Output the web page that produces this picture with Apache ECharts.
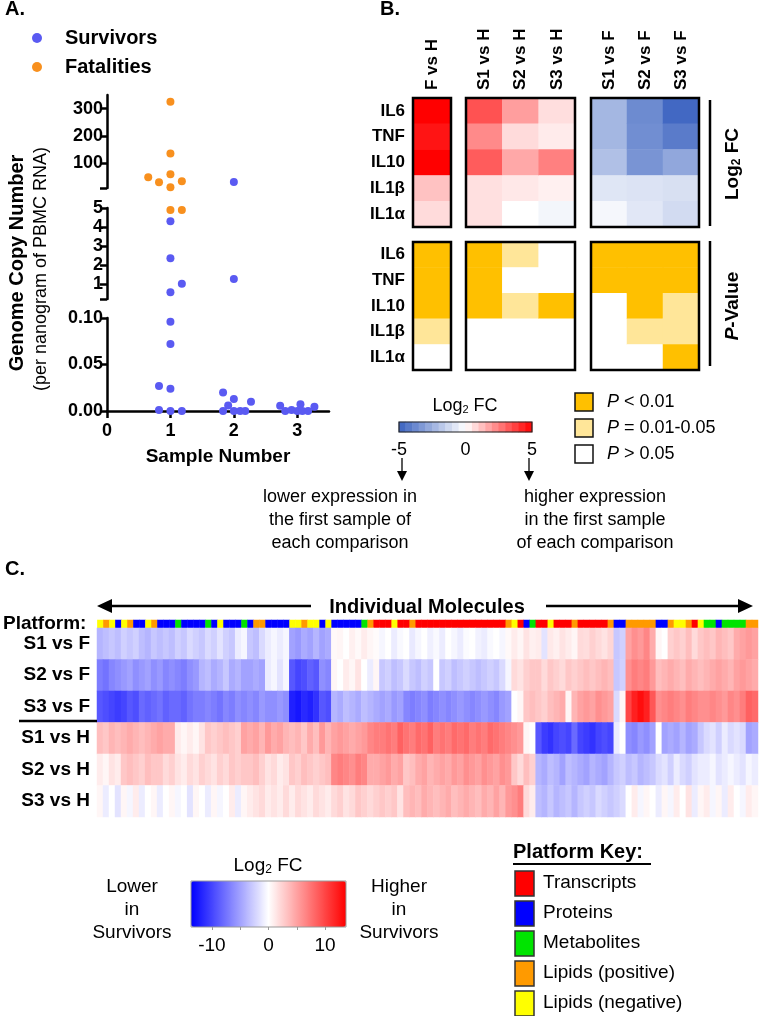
<!DOCTYPE html>
<html>
<head>
<meta charset="utf-8">
<script src="https://cdn.jsdelivr.net/npm/echarts@6.0.0/dist/echarts.min.js"></script>
<style>
html,body{margin:0;padding:0;background:#ffffff;}
#chart{width:760px;height:1016px;}
</style>
</head>
<body>
<div id="chart"></div>
<script>
// ================= DATA =================
// ---- Panel A: genome copy number (x = sample number incl. jitter, y = copies) ----
const survivorPoints = [
  [1.00, 4.3], [1.00, 2.35], [1.18, 1.0], [1.00, 0.55], [1.00, 0.096], [1.00, 0.072],
  [0.82, 0.027], [1.00, 0.024], [0.82, 0.001], [1.00, 0], [1.18, 0],
  [2.00, 32], [2.00, 1.25], [1.83, 0.020], [2.00, 0.013], [1.91, 0.006], [2.27, 0.010],
  [1.83, 0], [2.00, 0], [2.10, 0], [2.18, 0],
  [2.73, 0.0057], [2.81, 0], [2.91, 0.001], [3.00, 0], [3.05, 0.0072], [3.08, 0], [3.17, 0], [3.27, 0.0046]
];
const fatalityPoints = [
  [1.00, 325], [1.00, 136], [0.65, 49], [1.00, 60], [0.82, 31], [1.18, 35], [1.00, 13], [1.00, 4.9], [1.18, 4.9]
];
const ySegTop = [10, 350];
const ySegMid = [0.2, 5];
const ySegLow = [0, 0.10];
const yTicksTop = [100, 200, 300];
const yTicksMid = [1, 2, 3, 4, 5];
const yTicksLow = [0, 0.05, 0.10];
const yBreakTicksTop = [10];
const yBreakTicksMid = [0.2];
const xTicksA = [0, 1, 2, 3];

// ---- Panel B: cytokine log2 FC and P-value classes ----
const cytokines = ['IL6', 'TNF', 'IL10', 'IL1β', 'IL1α'];
const compFH = ['F vs H'];
const compSH = ['S1 vs H', 'S2 vs H', 'S3 vs H'];
const compSF = ['S1 vs F', 'S2 vs F', 'S3 vs F'];
// one inner list per comparison, in cytokine order
const fcFH = [[5.0, 4.6, 5.0, 1.2, 0.7]];
const fcSH = [[3.4, 2.3, 3.2, 0.6, 0.6], [1.9, 0.7, 1.7, 0.45, 0.0], [0.65, 0.4, 2.5, 0.3, -0.3]];
const fcSF = [[-2.3, -2.3, -2.0, -0.8, -0.25], [-3.7, -3.6, -3.4, -0.9, -0.75], [-4.8, -4.2, -2.8, -1.0, -1.15]];
// 2 = P < 0.01, 1 = P 0.01-0.05, 0 = P > 0.05
const pFH = [[2, 2, 2, 1, 0]];
const pSH = [[2, 2, 2, 0, 0], [1, 0, 1, 0, 0], [0, 0, 2, 0, 0]];
const pSF = [[2, 2, 0, 0, 0], [2, 2, 2, 1, 0], [2, 2, 1, 1, 2]];
const fcLegendSteps = [-4.75, -4.25, -3.75, -3.25, -2.75, -2.25, -1.75, -1.25, -0.75, -0.25,
                        0.25, 0.75, 1.25, 1.75, 2.25, 2.75, 3.25, 3.75, 4.25, 4.75];
const fcLegendTicks = [-5, 0, 5];
const pLegendLabels = ['< 0.01', '= 0.01-0.05', '> 0.05'];

// ---- Panel C: individual molecules ----
const moleculeRows = ['S1 vs F', 'S2 vs F', 'S3 vs F', 'S1 vs H', 'S2 vs H', 'S3 vs H'];
const platformKeys = ['T', 'P', 'M', 'L', 'N'];
const platformNames = ['Transcripts', 'Proteins', 'Metabolites', 'Lipids (positive)', 'Lipids (negative)'];
const platformColors = ['#FF0000', '#0000FF', '#00E400', '#FF9A00', '#FFFF00'];
const platformCodes = ('NLNPNLPPNL' + 'PPPMPPPPMP' + 'NPPPMPLLPP' + 'PPNNLNNPNP' + 'PPPPMLTTTN' +
                       'TTLTTTTTTT' + 'TTTTTTTTLN' + 'TPMTTNTTTL' + 'TTTTTLPPLL' + 'LLLPPLNNLT' +
                       'NMMPMMMMLL').split('');
const rowS1vsF = [
  -4, -3.5, -3, -3.5, -2.5, -3, -2.5, -3.5, -4, -3, -3.5, -3, -3.5,
  -2.5, -3, -2, -2.5, -3, -2, -2.5, -1.5, -2.5, -3, -1, -0.5,
  -3, -3.5, -2, -1, -0.5, -1, -0.5,
  -5, -5.5, -4.5, -5, -4, -5, -4.5,
  0.3, 0.5, 0, 0.8, 0.3, 1, 0.5, 0.2,
  -0.5, 0, -1, -0.3, 0, -1.2, -0.5, 0, -0.8, -0.3, -1, 0, -0.5, -1, -0.2, 0, -0.7, -1, -0.3, 0, -0.5, 0.3,
  1, 0.5, 1.5, 0.8,
  1, -1.5, 1.2, 0.8, 1.5, 1, 0.5,
  2, 1.8, 2.5, 2, 1.5, 2.2,
  -3, -2.5,
  5, 6, 5.5, 6.5, 4.5,
  0.5, 0, 2.5, 3, 2.5, 3.5, 2, 3,
  3.5, 3, 4, 3.5, 3, 4.5, 5, 5.5, 5
];
const rowS2vsF = [
  -7, -7.5, -6.5, -6, -5.5, -5, -6, -5.5, -5, -6, -5.5, -6.5, -6,
  -6.5, -7, -6, -5.5, -4, -3.5, -4.5, -4, -3, -4.5, -4, -5,
  -5, -4.5, -5, -1, -0.5, -1.5, -0.5,
  -9, -10, -9.5, -8.5, -9, -6, -6.5,
  0.5, 0, 1, 0.5, 1.5, 0, -1, 0.5,
  -3, -2.5, -3.5, -3, -2, -3, -3.5, -2.5, -3, 0, -3, -2.5, -3.5, -3, -2.5, -3, -3.5, -3, -2.5, -3, -2, -0.5,
  2, 1.5, 2.5, 3,
  3, 2, 3, 2.5, 2, 3, 2.5,
  3, 3.5, 3, 3.5, 4, 3.5,
  -3, -2.5,
  6, 7, 6.5, 7, 5.5,
  3.5, 4, 4.5, 4, 3.5, 4.5, 4, 3.5,
  4, 4.5, 5, 4.5, 4, 5, 5.5, 5, 4.5
];
const rowS3vsF = [
  -9, -9.5, -10, -10.5, -10, -9, -9.5, -8, -8.5, -8, -7.5, -8.5, -8,
  -8, -8.5, -7.5, -7, -7, -6.5, -7, -7.5, -6.5, -7, -6, -6.5,
  -6, -6.5, -5.5, -6, -6, -5.5, -6,
  -12, -12.5, -11.5, -12, -11, -9, -9.5,
  -4, -4.5, -3.5, -4, -4.5, -3.5, -4, -4.5,
  -5, -4.5, -5.5, -5, -6.5, -7, -6.5, -6, -7, -6.5, -6, -6.5, -6, -5.5, -6, -6.5, -6, -5.5, -6, -6.5, -5.5, -5,
  0, 0.5, 3, 3.5,
  3, 2.5, 3.5, 4, 4.5, 0.5, 4,
  5, 5.5, 5, 6, 5.5, 5,
  -2, 0.5,
  10, 12, 13, 12, 9,
  6, 6.5, 7, 6.5, 6, 7, 6.5, 6,
  6, 6.5, 6, 5.5, 6.5, 6, 7, 8.5, 8
];
const rowS1vsH = [
  3.5, 3, 4, 3.5, 4, 4.5, 4, 3.5, 4, 4.5, 5, 4.5, 4.5,
  1, 0.5, 1, 0.5, 1.5, 3, 2.5, 3, 3.5, 3, 2.5, 5,
  4.5, 5, 4, 5.5, 4.5, 5, 4,
  3.5, 4, 3, 4.5, 3.5, 5.5, 4,
  5, 5.5, 5, 4.5, 5, 5.5, 6.5, 7,
  7, 7.5, 7, 8.5, 7.5, 7, 8, 7.5, 8.5, 7, 7.5, 7, 8, 7.5, 8, 7, 7.5, 7, 8, 7.5, 7, 6.5,
  6, 5.5, 0.5, 0,
  -9, -10.5, -11, -10, -9.5, -10, -8,
  -10, -10.5, -11, -10, -9.5, -10,
  -1, 0,
  -6, -6.5, -5.5, -6, -5,
  0, -5, -4.5, -5, -4, -5, -4.5, -3,
  -2, -1.5, -2.5, -1, -2, -1.5, -2, -5, -4.5
];
const rowS2vsH = [
  1, 0.5, 1.5, 1, 3, 3.5, 3, 2.5, 3.5, 3, 3, 2, 2.5,
  1.5, 1, 2, 1.5, 2.5, 2, 1.5, 2.5, 2, 3, 2.5, 3,
  3, 3.5, 2.5, 1.5, 2, 1, 1.5,
  3, 2.5, 3.5, 3, 2.5, 3, 3.5,
  6.5, 7, 6.5, 6, 7, 6.5, 4.5, 4.5,
  5, 5.5, 4.5, 5, 3, 3.5, 4.5, 5, 4, 4.5, 5, 4.5, 5.5, 5, 6, 5.5, 5, 6, 5.5, 5, 6, 5.5,
  3, 2, 3.5, 2.5,
  -4, -4.5, -3.5, -4, -5, -3.5, -4,
  -4.5, -5, -4, -4.5, -5, -4,
  -3, -2.5,
  -3.5, -3, -4, -3.5, -3,
  -2, -1.5, -2.5, -1, -2, -2.5, -1.5, -1,
  -1, -0.5, -1.5, -1, -0.5, -1, -1.5, -0.5, -1
];
const rowS3vsH = [
  0.5, -1, 0, -1.5, 0.5, -0.5, 1, -1, 0, 0.5, -1, 0, 0.5,
  -0.5, 0, -1.5, 0.5, 0, -1, 0.5, -0.5, 0, 1, -1, 0.5,
  1, 1.5, 2, 1, 1.5, 1, 2,
  1, 2, 1.5, 1, 2, 1.5, 1,
  2, 2.5, 1.5, 2, 3, 2.5, 2, 2.5,
  3, 2.5, 3, 1.5, 3.5, 4, 3.5, 4.5, 4, 3.5, 4, 4.5, 3.5, 4, 4.5, 4, 3.5, 4.5, 4, 5, 4, 5.5,
  6, 7, 2, 1,
  -3.5, -4, -3, -4, -3.5, -3, -4,
  -3, -2.5, -3, -2, -2.5, -3,
  -2.5, -2,
  0, 1, -0.5, 0.5, 0,
  -1, 0.5, -0.5, 1, 0, 1.5, -1, 0.5,
  1, -0.5, 0.5, -1, 1, 0, -0.5, 1, 0.5
];
const cRange = [-13.7, 13.7];
const cTicks = [-10, -5, 0, 5, 10];
const cTickLabels = [-10, 0, 10];

// ================= STYLE / LAYOUT =================
const FONT = "'Liberation Sans', Arial, Helvetica, sans-serif";
const BLACK = '#000000';
const SURV = '#5A5AF2';
const FATAL = '#F8901E';

const grids = [], xAxes = [], yAxes = [], series = [], graphics = [];
function addGrid(g) { grids.push(Object.assign({ show: false, containLabel: false }, g)); return grids.length - 1; }
function addX(a) { xAxes.push(a); return xAxes.length - 1; }
function addY(a) { yAxes.push(a); return yAxes.length - 1; }

// ---------- Panel A ----------
const A = { left: 107, width: 222, segs: [{ top: 95, height: 93 }, { top: 208, height: 91 }, { top: 318, height: 93 }] };
const segRanges = [ySegTop, ySegMid, ySegLow];
const segTickVals = [yBreakTicksTop.concat(yTicksTop), yBreakTicksMid.concat(yTicksMid), yTicksLow];
const segLabelVals = [yTicksTop, yTicksMid, yTicksLow];
function segOf(v) { return v >= ySegTop[0] ? 0 : (v >= ySegMid[0] ? 1 : 2); }

for (let k = 0; k < 3; k++) {
  const gi = addGrid({ left: A.left, width: A.width, top: A.segs[k].top, height: A.segs[k].height });
  const isBottom = k === 2;
  const xi = addX(isBottom ? {
    gridIndex: gi, type: 'value', min: 0, max: 3.5, position: 'bottom',
    axisLine: { show: true, onZero: false, lineStyle: { color: BLACK, width: 2.5 } },
    axisTick: { show: true, customValues: xTicksA, length: 7, lineStyle: { color: BLACK, width: 2.5 } },
    axisLabel: { show: true, customValues: xTicksA, color: BLACK, fontSize: 18, fontWeight: 'bold', fontFamily: FONT, margin: 11 },
    splitLine: { show: false },
    name: 'Sample Number', nameLocation: 'middle', nameGap: 36,
    nameTextStyle: { color: BLACK, fontSize: 19, fontWeight: 'bold', fontFamily: FONT }
  } : { gridIndex: gi, type: 'value', min: 0, max: 3.5, show: false });
  const yi = addY({
    gridIndex: gi, type: 'value', min: segRanges[k][0], max: segRanges[k][1],
    axisLine: { show: true, onZero: false, lineStyle: { color: BLACK, width: 2.5 } },
    axisTick: { show: true, customValues: segTickVals[k], length: 7, lineStyle: { color: BLACK, width: 2.5 } },
    axisLabel: {
      show: true, customValues: segLabelVals[k], color: BLACK, fontSize: 18, fontWeight: 'bold', fontFamily: FONT, margin: 4,
      formatter: k === 2 ? (v => Number(v).toFixed(2)) : (v => String(v))
    },
    splitLine: { show: false }
  });
  series.push({
    type: 'scatter', name: 'Survivors', xAxisIndex: xi, yAxisIndex: yi, clip: false, z: 5,
    symbol: 'circle', symbolSize: 8, itemStyle: { color: SURV, opacity: 1 }, emphasis: { disabled: true },
    data: survivorPoints.filter(p => segOf(p[1]) === k)
  });
  series.push({
    type: 'scatter', name: 'Fatalities', xAxisIndex: xi, yAxisIndex: yi, clip: false, z: 5,
    symbol: 'circle', symbolSize: 8, itemStyle: { color: FATAL, opacity: 1 }, emphasis: { disabled: true },
    data: fatalityPoints.filter(p => segOf(p[1]) === k)
  });
}

// ---------- Panel B ----------
const bCols = [
  { left: 413, width: 38, names: compFH, fc: fcFH, p: pFH },
  { left: 466, width: 109, names: compSH, fc: fcSH, p: pSH },
  { left: 591, width: 108, names: compSF, fc: fcSF, p: pSF }
];
const bRows = [{ key: 'fc', top: 98, height: 129 }, { key: 'p', top: 242, height: 128 }];
const fcSeriesIdx = [], pSeriesIdx = [];
bRows.forEach(row => {
  bCols.forEach((col, c) => {
    const gi = addGrid({ left: col.left, width: col.width, top: row.top, height: row.height });
    const xi = addX({
      gridIndex: gi, type: 'category', data: col.names, position: 'top',
      axisLine: { show: false }, axisTick: { show: false }, splitLine: { show: false },
      axisLabel: {
        show: row.key === 'fc', interval: 0, rotate: -90, margin: 8,
        color: BLACK, fontSize: 17, fontWeight: 'bold', fontFamily: FONT
      }
    });
    const yi = addY({
      gridIndex: gi, type: 'category', data: cytokines, inverse: true,
      axisLine: { show: false }, axisTick: { show: false }, splitLine: { show: false },
      axisLabel: { show: c === 0, margin: 8, color: BLACK, fontSize: 17, fontWeight: 'bold', fontFamily: FONT }
    });
    const vals = row.key === 'fc' ? col.fc : col.p;
    const data = [];
    vals.forEach((colVals, ci) => colVals.forEach((v, ri) => data.push([ci, ri, v])));
    series.push({ type: 'heatmap', xAxisIndex: xi, yAxisIndex: yi, data, emphasis: { disabled: true }, itemStyle: { borderWidth: 0 } });
    (row.key === 'fc' ? fcSeriesIdx : pSeriesIdx).push(series.length - 1);
    graphics.push({ type: 'rect', z: 100, shape: { x: col.left, y: row.top, width: col.width, height: row.height },
      style: { fill: null, stroke: BLACK, lineWidth: 2.5 } });
  });
});
// B colour legend (stepped)
const bLeg = { left: 399, top: 422, width: 133, height: 10 };
{
  const gi = addGrid(bLeg);
  const xc = addX({ gridIndex: gi, type: 'category', data: fcLegendSteps.map(String), position: 'top', show: false });
  addX({
    gridIndex: gi, type: 'value', min: -5, max: 5, interval: 5, position: 'bottom',
    axisLine: { show: false }, axisTick: { show: false }, splitLine: { show: false },
    axisLabel: { customValues: fcLegendTicks, color: BLACK, fontSize: 18, fontFamily: FONT, margin: 9 }
  });
  const yi = addY({ gridIndex: gi, type: 'category', data: [''], show: false });
  series.push({ type: 'heatmap', xAxisIndex: xc, yAxisIndex: yi, data: fcLegendSteps.map((v, i) => [i, 0, v]), emphasis: { disabled: true } });
  fcSeriesIdx.push(series.length - 1);
  graphics.push({ type: 'rect', z: 100, shape: { x: bLeg.left, y: bLeg.top, width: bLeg.width, height: bLeg.height },
    style: { fill: null, stroke: '#222', lineWidth: 1.2 } });
}

// ---------- Panel C ----------
const C = { left: 97, width: 661, platTop: 620, platHeight: 8, top: 628, height: 189 };
const colIds = platformCodes.map((_, i) => String(i));
let platformSeriesIdx, cSeriesIdx;
{
  const gi = addGrid({ left: C.left, width: C.width, top: C.platTop, height: C.platHeight });
  const xi = addX({ gridIndex: gi, type: 'category', data: colIds, show: false });
  const yi = addY({
    gridIndex: gi, type: 'category', data: ['Platform:'],
    axisLine: { show: false }, axisTick: { show: false },
    axisLabel: { margin: 11, color: BLACK, fontSize: 19, fontWeight: 'bold', fontFamily: FONT }
  });
  series.push({
    type: 'heatmap', xAxisIndex: xi, yAxisIndex: yi, emphasis: { disabled: true },
    data: platformCodes.map((code, i) => [i, 0, platformKeys.indexOf(code)])
  });
  platformSeriesIdx = series.length - 1;
}
{
  const gi = addGrid({ left: C.left, width: C.width, top: C.top, height: C.height });
  const xi = addX({ gridIndex: gi, type: 'category', data: colIds, show: false });
  const yi = addY({
    gridIndex: gi, type: 'category', data: moleculeRows, inverse: true,
    axisLine: { show: false }, axisTick: { show: false },
    axisLabel: { margin: 7, color: BLACK, fontSize: 19, fontWeight: 'bold', fontFamily: FONT }
  });
  const rows = [rowS1vsF, rowS2vsF, rowS3vsF, rowS1vsH, rowS2vsH, rowS3vsH];
  const data = [];
  rows.forEach((r, ri) => r.forEach((v, ci) => data.push([ci, ri, v])));
  series.push({ type: 'heatmap', xAxisIndex: xi, yAxisIndex: yi, data, emphasis: { disabled: true } });
  cSeriesIdx = series.length - 1;
}
// C colour-bar axis
const cBar = { left: 191, top: 881, width: 155, height: 46 };
{
  const gi = addGrid(cBar);
  addX({
    gridIndex: gi, type: 'value', min: cRange[0], max: cRange[1], position: 'bottom',
    axisLine: { show: false }, splitLine: { show: false },
    axisTick: { show: true, customValues: cTicks, length: 3, lineStyle: { color: '#999', width: 1 } },
    axisLabel: { customValues: cTickLabels, color: BLACK, fontSize: 19, fontFamily: FONT, margin: 9 }
  });
  addY({ gridIndex: gi, type: 'value', show: false });
}

// ---------- Graphics: labels, frames, arrows ----------
function txt(x, y, text, o) {
  o = o || {};
  graphics.push({
    type: 'text', x, y, rotation: o.rotation || 0, z: 110,
    style: Object.assign({
      text, fill: BLACK, fontFamily: FONT, fontSize: o.size || 18, fontWeight: o.bold ? 'bold' : 'normal',
      fontStyle: o.italic ? 'italic' : 'normal', align: o.align || 'center', verticalAlign: 'middle'
    }, o.rich ? { rich: o.rich } : {})
  });
}
function line(x1, y1, x2, y2, w, color) {
  graphics.push({ type: 'line', z: 110, shape: { x1, y1, x2, y2 }, style: { stroke: color || BLACK, lineWidth: w || 2.5 } });
}
function tri(points) {
  graphics.push({ type: 'polygon', z: 110, shape: { points }, style: { fill: BLACK } });
}
// panel letters
txt(5, 9, 'A.', { bold: true, size: 20, align: 'left' });
txt(380, 9, 'B.', { bold: true, size: 20, align: 'left' });
txt(5, 569, 'C.', { bold: true, size: 20, align: 'left' });
// panel A y titles
txt(17, 263, 'Genome Copy Number', { bold: true, size: 20, rotation: Math.PI / 2 });
txt(41, 269, '(per nanogram of PBMC RNA)', { size: 18, rotation: Math.PI / 2 });
// panel B side bars and labels
line(710, 100, 710, 226, 2.5);
line(710, 241, 710, 366, 2.5);
const subRich = (sz, bold) => ({
  n: { fontSize: sz, fontWeight: bold ? 'bold' : 'normal', fontFamily: FONT, fill: BLACK },
  s: { fontSize: Math.round(sz * 0.62), fontWeight: bold ? 'bold' : 'normal', fontFamily: FONT, fill: BLACK, verticalAlign: 'bottom' },
  i: { fontSize: sz, fontWeight: bold ? 'bold' : 'normal', fontStyle: 'italic', fontFamily: FONT, fill: BLACK }
});
txt(733, 164, '{n|Log}{s|2}{n| FC}', { rotation: Math.PI / 2, rich: subRich(19, true) });
txt(733, 306, '{i|P}{n|-Value}', { rotation: Math.PI / 2, rich: subRich(19, true) });
// B legend
txt(465, 406, '{n|Log}{s|2}{n| FC}', { rich: subRich(18, false) });
[402, 529].forEach(x => { line(x, 458, x, 474, 1.3); tri([[x - 5, 471], [x + 5, 471], [x, 481]]); });
['lower expression in', 'the first sample of', 'each comparison'].forEach((t, i) => txt(340, 497 + i * 23, t, { size: 18 }));
['higher expression', 'in the first sample', 'of each comparison'].forEach((t, i) => txt(595, 497 + i * 23, t, { size: 18 }));
const pLegendColors = ['#FFC000', '#FFE699', '#FFFFFF'];
pLegendLabels.forEach((t, i) => {
  graphics.push({ type: 'rect', z: 110, shape: { x: 575, y: 393 + i * 26, width: 18, height: 18 },
    style: { fill: pLegendColors[i], stroke: '#111', lineWidth: 1.5 } });
  txt(607, 402 + i * 26, '{i|P}{n| ' + t + '}', { align: 'left', rich: subRich(18, false) });
});
// panel C arrows & title
line(108, 606, 311, 606, 2.5); tri([[97, 606], [112, 599], [112, 613]]);
line(546, 606, 742, 606, 2.5); tri([[753, 606], [738, 599], [738, 613]]);
txt(427, 607, 'Individual Molecules', { bold: true, size: 20 });
line(19, 721, 97, 721, 2.5);
// C colour legend texts
txt(268, 866, '{n|Log}{s|2}{n| FC}', { rich: subRich(19, false) });
['Lower', 'in', 'Survivors'].forEach((t, i) => txt(132, 887 + i * 23, t, { size: 19 }));
['Higher', 'in', 'Survivors'].forEach((t, i) => txt(399, 887 + i * 23, t, { size: 19 }));
graphics.push({ type: 'rect', z: 110, shape: { x: cBar.left, y: cBar.top, width: cBar.width, height: cBar.height },
  style: { fill: null, stroke: '#999', lineWidth: 1 } });
// platform key
txt(513, 852, 'Platform Key:', { bold: true, size: 20, align: 'left' });
line(513, 864, 651, 864, 1.8);
platformNames.forEach((name, i) => {
  graphics.push({ type: 'rect', z: 110, shape: { x: 515, y: 871 + i * 30, width: 19, height: 25 },
    style: { fill: platformColors[i], stroke: '#333', lineWidth: 1.5 } });
  txt(543, 883 + i * 30, name, { size: 19, align: 'left' });
});

// ================= OPTION =================
const option = {
  animation: false,
  textStyle: { fontFamily: FONT },
  legend: {
    data: ['Survivors', 'Fatalities'], orient: 'vertical', left: 32, top: 28, padding: 0,
    icon: 'circle', itemWidth: 10, itemHeight: 10, itemGap: 9, selectedMode: false,
    textStyle: { color: BLACK, fontSize: 20, fontWeight: 'bold', fontFamily: FONT, lineHeight: 18, padding: [0, 0, 0, 18] }
  },
  grid: grids, xAxis: xAxes, yAxis: yAxes,
  visualMap: [
    { type: 'continuous', show: false, seriesIndex: fcSeriesIdx, dimension: 2, min: -5, max: 5,
      inRange: { color: ['#3A62C0', '#FFFFFF', '#FF0000'] } },
    { type: 'piecewise', show: false, seriesIndex: pSeriesIdx, dimension: 2,
      pieces: [{ value: 2, color: '#FFC000' }, { value: 1, color: '#FFE699' }, { value: 0, color: '#FFFFFF' }] },
    { type: 'piecewise', show: false, seriesIndex: [platformSeriesIdx], dimension: 2,
      pieces: platformKeys.map((k, i) => ({ value: i, color: platformColors[i] })) },
    { type: 'continuous', show: true, seriesIndex: [cSeriesIdx], dimension: 2, min: cRange[0], max: cRange[1],
      inRange: { color: ['#0000FF', '#FFFFFF', '#FF0000'] },
      orient: 'horizontal', left: cBar.left, top: cBar.top, itemWidth: cBar.height, itemHeight: cBar.width,
      calculable: false, hoverLink: false, padding: 0, text: null, textStyle: { fontSize: 1, color: 'rgba(0,0,0,0)' } }
  ],
  series,
  graphic: { elements: graphics }
};
const chart = echarts.init(document.getElementById('chart'), null, { renderer: 'canvas', width: 760, height: 1016 });
chart.setOption(option);
</script>
</body>
</html>
